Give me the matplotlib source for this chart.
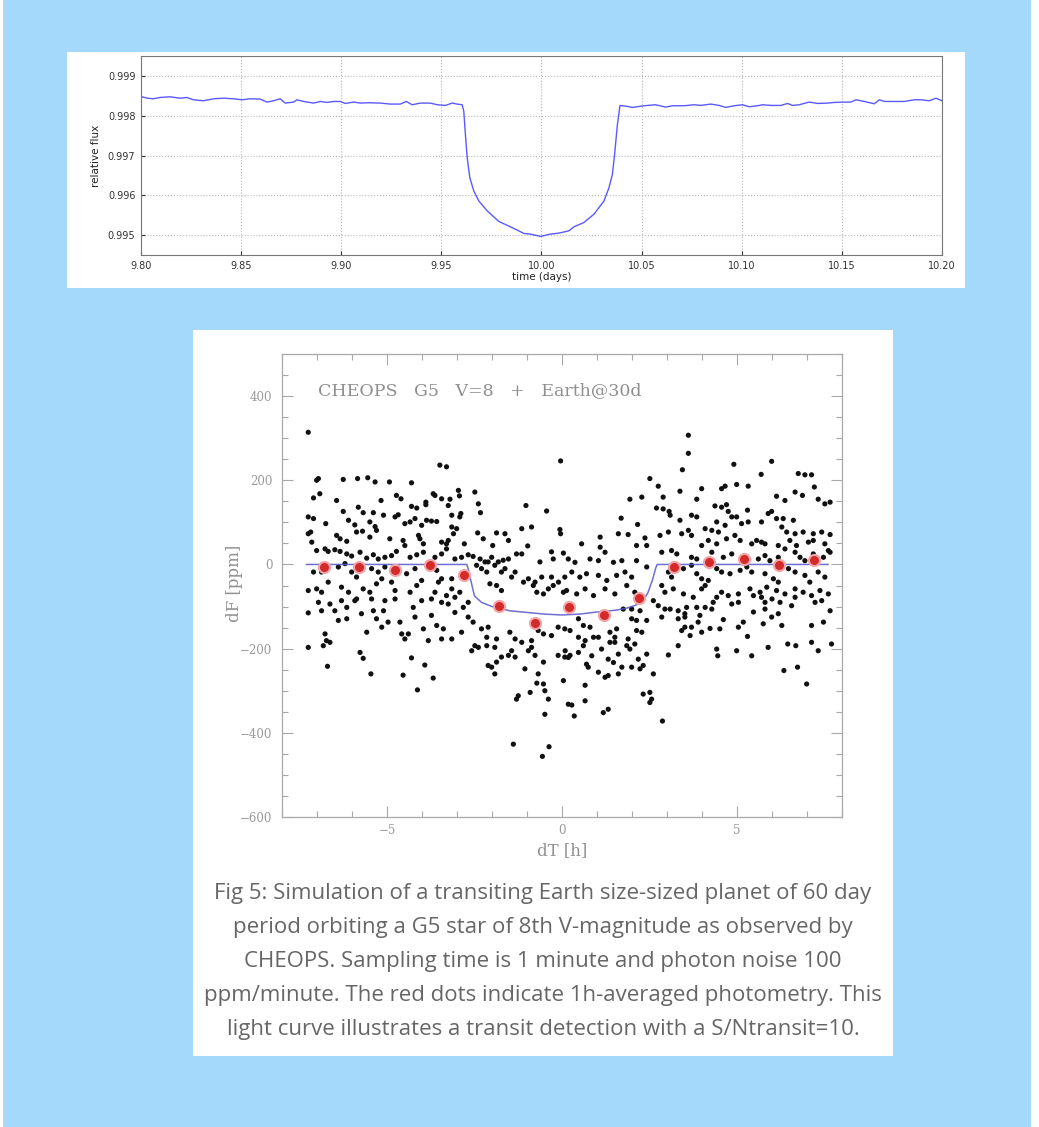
import matplotlib
matplotlib.use("Agg")
import matplotlib.pyplot as plt
from matplotlib.patches import Rectangle
from matplotlib.ticker import MultipleLocator, FormatStrFormatter

W, H = 1039, 1127

# ---------------- top panel: light curve ----------------
lc_time = [9.8000, 9.8029, 9.8062, 9.8095, 9.8145, 9.8195, 9.8229, 9.8262, 9.8312, 9.8362,
           9.8412, 9.8462, 9.8504, 9.8545, 9.8595, 9.8629, 9.8662, 9.8695, 9.8720, 9.8762,
           9.8779, 9.8812, 9.8862, 9.8895, 9.8929, 9.8962, 9.8995, 9.9020, 9.9062, 9.9095,
           9.9137, 9.9195, 9.9245, 9.9295, 9.9325, 9.9354, 9.9395, 9.9445, 9.9479, 9.9520,
           9.9554, 9.9579, 9.9604, 9.9612, 9.9620, 9.9629, 9.9642, 9.9662, 9.9687, 9.9729,
           9.9787, 9.9845, 9.9912, 9.9945, 9.9995, 10.0045, 10.0087, 10.0137, 10.0162, 10.0212,
           10.0262, 10.0312, 10.0337, 10.0354, 10.0365, 10.0379, 10.0392, 10.0429, 10.0454, 10.0512,
           10.0570, 10.0620, 10.0654, 10.0712, 10.0762, 10.0795, 10.0845, 10.0887, 10.0920, 10.0962,
           10.1004, 10.1037, 10.1079, 10.1104, 10.1145, 10.1195, 10.1229, 10.1254, 10.1287, 10.1337,
           10.1379, 10.1429, 10.1462, 10.1512, 10.1545, 10.1570, 10.1612, 10.1662, 10.1687, 10.1712,
           10.1762, 10.1812, 10.1862, 10.1895, 10.1937, 10.1970, 10.2000]
lc_flux = [0.998483, 0.998442, 0.998425, 0.998458, 0.998475, 0.998440, 0.998458, 0.998400, 0.998375, 0.998425,
           0.998440, 0.998425, 0.998400, 0.998425, 0.998418, 0.998342, 0.998375, 0.998425, 0.998317, 0.998342,
           0.998400, 0.998358, 0.998317, 0.998358, 0.998333, 0.998358, 0.998358, 0.998308, 0.998342, 0.998317,
           0.998325, 0.998317, 0.998292, 0.998292, 0.998358, 0.998275, 0.998317, 0.998317, 0.998275, 0.998258,
           0.998317, 0.998292, 0.998275, 0.998108, 0.997525, 0.996942, 0.996442, 0.996108, 0.995858, 0.995608,
           0.995342, 0.995208, 0.995042, 0.995025, 0.994967, 0.995025, 0.995050, 0.995108, 0.995208, 0.995317,
           0.995525, 0.995858, 0.996192, 0.996525, 0.997025, 0.997775, 0.998258, 0.998233, 0.998208, 0.998250,
           0.998275, 0.998217, 0.998250, 0.998250, 0.998275, 0.998258, 0.998292, 0.998258, 0.998208, 0.998250,
           0.998275, 0.998225, 0.998250, 0.998275, 0.998258, 0.998258, 0.998308, 0.998258, 0.998275, 0.998342,
           0.998308, 0.998317, 0.998333, 0.998342, 0.998342, 0.998400, 0.998358, 0.998300, 0.998400, 0.998358,
           0.998358, 0.998358, 0.998400, 0.998400, 0.998375, 0.998440, 0.998375]
top_xticks = [9.80, 9.85, 9.90, 9.95, 10.00, 10.05, 10.10, 10.15, 10.20]
top_yticks = [0.995, 0.996, 0.997, 0.998, 0.999]

# ---------------- bottom panel: CHEOPS simulation ----------------
pts_upper_left = [
    (-7.25, 314), (-3.49, 236), (-3.30, 232), (-0.04, 246),
    (-7.01, 200), (-6.96, 204), (-6.25, 202), (-5.84, 204), (-5.55, 206), (-5.34, 196), (-4.93, 196),
    (-4.30, 194), (-2.96, 176), (-2.49, 172),
    (-7.10, 158), (-6.92, 168), (-6.44, 152), (-5.17, 152), (-4.73, 164), (-4.60, 156), (-4.30, 138),
    (-4.15, 134), (-3.89, 148), (-3.89, 142), (-3.68, 168), (-3.63, 164), (-3.44, 156), (-3.20, 155),
    (-3.25, 140), (-2.93, 163), (-2.39, 144), (-2.33, 123), (-1.03, 140), (-0.44, 127),
    (-7.25, 113), (-7.10, 109), (-6.25, 126), (-5.82, 136), (-5.68, 123), (-5.39, 123), (-5.10, 117),
    (-4.77, 113), (-4.68, 118), (-4.49, 97), (-4.34, 101), (-4.20, 109), (-4.01, 93), (-3.87, 105),
    (-3.73, 103), (-3.58, 102), (-3.15, 117), (-2.92, 113), (-2.89, 121),
    (-6.75, 97), (-6.10, 105), (-5.92, 94), (-5.49, 101), (-5.34, 90), (-5.87, 77), (-5.70, 79),
    (-7.25, 73), (-7.18, 77), (-6.44, 69), (-6.34, 61), (-6.15, 55), (-5.49, 65), (-5.30, 81),
    (-4.92, 61), (-4.54, 57), (-4.10, 69), (-4.06, 61), (-3.96, 49), (-3.44, 53), (-3.30, 49),
    (-3.25, 57), (-3.15, 89), (-3.01, 85), (-3.10, 73), (-2.79, 49), (-2.41, 75), (-2.25, 61),
    (-1.87, 75), (-1.63, 73), (-1.53, 57), (-1.15, 85), (-0.87, 89), (-1.98, 45), (-0.98, 44),
    (-0.06, 83), (-0.04, 73),
    (-7.15, 53), (-7.01, 33), (-6.77, 37), (-6.68, 31), (-6.49, 35), (-6.34, 31), (-6.15, 25),
    (-6.01, 20), (-5.77, 29), (-5.58, 15), (-5.39, 23), (-5.25, 13), (-5.06, 17), (-4.87, 21),
    (-4.73, 31), (-4.49, 45), (-4.34, 17), (-4.15, 23), (-3.96, 29), (-3.63, 17), (-3.44, 25),
    (-3.30, 37), (-3.06, 13), (-2.87, 17), (-2.68, 23), (-2.54, 19), (-2.34, 13), (-2.20, 6),
    (-2.01, 17), (-1.82, 6), (-1.68, 10), (-1.53, 13), (-1.30, 25), (-1.15, 25), (-0.63, 6),
    (-0.25, 13), (0.04, 27), (-0.30, 30),
    (-7.10, -18), (-6.87, -18), (-6.39, -6), (-6.20, 2), (-6.01, -18), (-5.87, -30), (-5.44, -10),
    (-5.25, -18), (-5.06, -6), (-4.68, -14), (-4.44, -22), (-4.20, -10), (-3.58, -14), (-3.44, -34),
    (-3.15, -34), (-2.44, -2), (-2.30, -10), (-2.15, -18), (-2.11, 6), (-1.92, -2), (-1.73, -18),
    (-1.63, -10), (-1.44, -30), (-1.34, -18), (-0.96, -34), (-0.77, -42), (-0.58, -30), (-0.30, -30),
    (-0.10, -42), (0.08, -30),
    (-7.25, -62), (-7.01, -58), (-6.87, -66), (-6.68, -42), (-6.30, -54), (-6.10, -66), (-5.68, -58),
    (-5.49, -66), (-5.30, -46), (-5.15, -34), (-4.87, -42), (-4.77, -62), (-4.34, -66), (-4.15, -50),
    (-4.01, -38), (-3.63, -66), (-3.53, -42), (-3.30, -74), (-3.15, -58), (-2.92, -66), (-2.06, -46),
    (-1.87, -50), (-1.73, -62), (-1.10, -42), (-0.82, -50), (-0.72, -66), (-0.53, -70), (-0.39, -58),
    (-0.25, -50), (0.04, -66),
]
pts_upper_right = [
    (3.61, 307), (3.61, 264), (3.44, 225), (4.91, 238), (5.99, 245), (2.51, 204), (2.75, 186),
    (3.37, 174), (3.99, 180), (4.56, 180), (4.66, 186), (4.99, 190), (5.32, 186), (5.69, 214),
    (6.75, 216), (6.94, 213), (7.13, 213), (7.21, 184),
    (1.94, 155), (2.28, 160), (2.89, 160), (6.13, 162), (6.37, 152), (6.66, 172), (6.87, 164),
    (7.32, 155), (7.51, 144), (7.66, 148),
    (1.69, 110), (2.16, 95), (2.70, 134), (2.89, 132), (3.06, 126), (3.09, 117), (3.37, 105),
    (3.70, 117), (3.85, 113), (3.85, 155), (4.37, 139), (4.56, 136), (4.70, 142), (4.75, 126),
    (4.85, 113), (4.99, 113), (4.42, 101), (4.66, 93), (5.13, 97), (5.32, 101), (5.30, 129),
    (5.70, 101), (5.89, 121), (5.99, 126), (6.13, 109), (6.32, 109), (6.61, 105), (6.28, 89),
    (6.42, 77), (6.66, 73), (6.89, 77), (7.18, 73), (7.42, 77), (7.66, 71),
    (1.09, 65), (1.61, 73), (1.89, 71), (2.37, 63), (0.56, 49), (1.09, 41), (1.23, 29), (2.13, 45),
    (2.42, 45), (2.80, 69), (3.04, 77), (3.42, 73), (3.61, 81), (3.70, 69), (4.09, 85), (4.28, 81),
    (4.47, 77), (3.99, 45), (4.18, 57), (4.42, 49), (4.70, 61), (4.94, 69), (5.09, 57), (5.42, 49),
    (5.56, 57), (5.70, 53), (5.80, 49), (6.18, 45), (6.37, 37), (6.51, 57), (6.70, 45), (7.04, 53),
    (7.18, 57), (7.51, 49), (7.61, 33),
    (0.18, 13), (0.37, 5), (0.80, 13), (1.04, 9), (1.47, 5), (1.71, 9), (2.13, 9), (2.85, 29),
    (3.13, 33), (3.28, 25), (3.70, 17), (3.85, 13), (4.28, 29), (4.61, 17), (4.85, 25), (5.13, 13),
    (5.61, 13), (5.80, 21), (5.94, 9), (6.18, 17), (6.66, 29), (6.80, 17), (6.94, 9), (7.18, 25),
    (7.47, 17), (7.66, 29),
    (0.28, -18), (0.51, -30), (0.70, -22), (1.04, -26), (1.28, -38), (1.56, -26), (1.80, -18),
    (1.99, -30), (2.42, -6), (3.04, -18), (3.13, -30), (3.47, -10), (3.70, -2), (3.85, -22),
    (3.99, -34), (4.18, -38), (4.42, -10), (4.56, -18), (4.80, -22), (5.09, -14), (5.28, -6),
    (5.42, -18), (5.80, -22), (6.04, -34), (6.18, -42), (6.47, -10), (6.66, -18), (6.94, -26),
    (7.08, -42), (7.32, -18), (7.51, -30),
    (0.13, -62), (0.42, -70), (0.66, -58), (0.90, -74), (1.23, -58), (1.51, -70), (1.85, -50),
    (2.08, -66), (2.85, -50), (2.94, -66), (3.18, -58), (3.47, -70), (3.75, -78), (3.99, -58),
    (4.09, -50), (4.56, -66), (4.75, -74), (5.04, -70), (5.37, -58), (5.66, -66), (5.85, -54),
    (6.13, -62), (6.37, -70), (6.66, -58), (6.89, -66), (7.13, -74), (7.37, -62), (7.61, -70),
]
pts_lower_left = [
    (-7.25, -115), (-6.96, -90), (-6.87, -110), (-6.63, -94), (-6.49, -110), (-6.39, -133),
    (-6.15, -102), (-6.15, -129), (-5.92, -86), (-5.73, -117), (-5.58, -161), (-5.39, -110),
    (-5.30, -129), (-5.15, -149), (-5.10, -110), (-4.97, -137), (-4.63, -137), (-4.77, -82),
    (-4.58, -165), (-4.49, -177), (-4.39, -165), (-4.25, -102), (-4.20, -125), (-3.96, -153),
    (-3.82, -181), (-3.73, -121), (-3.58, -145), (-3.39, -153), (-3.44, -177), (-3.15, -177),
    (-3.25, -94), (-3.06, -114), (-2.87, -161), (-2.82, -102), (-2.68, -125), (-2.54, -137),
    (-2.58, -205), (-2.49, -193), (-2.39, -197), (-2.30, -153), (-2.15, -173), (-2.11, -149),
    (-2.15, -193), (-1.92, -197), (-1.87, -177), (-2.11, -240), (-2.01, -244), (-1.92, -260),
    (-1.87, -232), (-1.73, -220), (-1.53, -216), (-1.44, -205), (-1.34, -220), (-1.49, -161),
    (-1.34, -177), (-1.15, -185), (-1.06, -248), (-0.96, -205), (-0.87, -181), (-0.87, -197),
    (-0.77, -216), (-0.68, -157), (-0.53, -165), (-0.30, -169), (-0.11, -149), (0.08, -153),
    (-0.53, -232), (-0.72, -282), (-0.53, -284), (-0.49, -300), (-0.91, -304), (-1.30, -320),
    (-1.25, -312), (-0.68, -260), (-0.39, -320), (-0.49, -356), (0.04, -276), (0.08, -220),
    (0.23, -216), (-0.11, -216), (0.18, -332), (-1.39, -427), (-0.37, -433), (-0.56, -456),
    (-7.25, -197), (-6.82, -193), (-6.73, -181), (-6.63, -185), (-6.77, -165), (-6.70, -242),
    (-5.77, -209), (-5.68, -223), (-5.46, -260), (-4.54, -263), (-4.30, -222), (-3.92, -239),
    (-3.68, -270), (-4.13, -298),
    (-6.30, -86), (-5.87, -82), (-5.44, -82), (-5.06, -86), (-4.01, -86), (-3.73, -82),
    (-3.44, -90), (-3.06, -78), (-2.68, -90),
]
pts_lower_right = [
    (0.23, -157), (0.47, -129), (0.61, -145), (0.80, -149), (0.47, -173), (0.66, -181),
    (0.61, -193), (0.90, -173), (1.04, -173), (0.09, -205), (0.18, -221), (0.47, -209),
    (0.85, -217), (1.13, -201), (0.70, -237), (0.75, -244), (1.37, -161), (1.51, -173),
    (1.56, -153), (1.37, -185), (1.51, -185), (1.61, -213), (1.32, -225), (1.47, -233),
    (1.04, -256), (1.23, -268), (1.32, -264), (1.61, -260), (1.85, -193), (1.94, -201),
    (1.89, -177), (2.08, -189), (1.71, -244), (1.99, -244), (2.23, -248), (2.32, -240),
    (2.18, -225), (2.42, -213), (2.61, -260), (2.13, -157), (2.28, -161), (1.99, -129),
    (2.13, -133), (2.42, -133), (1.75, -106), (1.99, -106), (2.23, -110), (2.32, -308),
    (2.51, -304), (2.56, -320), (2.51, -328), (0.66, -287), (0.66, -324), (0.28, -334),
    (0.35, -360), (1.18, -352), (1.32, -344), (2.87, -372), (3.04, -215), (3.32, -193),
    (2.61, -86), (2.75, -98), (2.94, -106), (3.09, -106), (2.85, -125), (3.32, -129),
    (3.51, -117), (3.51, -125), (3.42, -157), (3.51, -149), (3.66, -169), (3.70, -149),
    (3.32, -110), (3.56, -102), (3.85, -102), (3.94, -121), (3.89, -137), (3.99, -161),
    (4.23, -152), (4.09, -102), (4.28, -106), (4.32, -90), (4.42, -78), (4.51, -153),
    (4.61, -131), (4.42, -201), (4.45, -217), (4.99, -205), (5.04, -149), (5.18, -137),
    (5.30, -171), (5.42, -217), (4.85, -94), (5.04, -90), (5.47, -113), (5.75, -141),
    (5.80, -106), (5.80, -90), (5.89, -197), (5.99, -125), (6.18, -117), (6.28, -145),
    (6.23, -90), (6.56, -98), (6.66, -78), (6.34, -252), (6.45, -189), (6.68, -193),
    (6.73, -244), (6.99, -284), (7.13, -145), (7.13, -185), (7.32, -205), (7.42, -86),
    (7.23, -90), (7.47, -137), (7.66, -110), (7.70, -189), (5.47, -74), (5.70, -78), (6.00, -82),
]

bin_dt = [-6.8, -5.8, -4.77, -3.77, -2.8, -1.8, -0.77, 0.2, 1.2, 2.2, 3.2, 4.2, 5.2, 6.2, 7.2]
bin_df = [-5, -7, -12, -2, -24, -98, -138, -100, -121, -79, -7, 5, 14, -2, 10]

model_dt = [-7.3, -2.72, -2.68, -2.6, -2.5, -2.3, -2.0, -1.5, -1.0, -0.5, 0.0, 0.5, 1.0, 1.5,
            1.8, 2.1, 2.3, 2.45, 2.58, 2.68, 2.72, 7.6]
model_df = [0, 0, -10, -40, -75, -90, -100, -110, -114, -118, -120, -118, -113, -109,
            -105, -97, -88, -68, -38, -8, 0, 0]

bottom_yticks = [400, 200, 0, -200, -400, -600]
bottom_xticks = [-5, 0, 5]
panel_title = "CHEOPS   G5   V=8   +   Earth@30d"

caption_lines = [
    "Fig 5: Simulation of a transiting Earth size-sized planet of 60 day",
    "period orbiting a G5 star of 8th V-magnitude as observed by",
    "CHEOPS. Sampling time is 1 minute and photon noise 100",
    "ppm/minute. The red dots indicate 1h-averaged photometry. This",
    "light curve illustrates a transit detection with a S/Ntransit=10.",
]


def fx(px):
    return px / W


def fy(py):
    return 1 - py / H


def box(l, t, r, b):
    return [fx(l), fy(b), fx(r) - fx(l), fy(t) - fy(b)]


fig = plt.figure(figsize=(W / 100, H / 100), dpi=100)
fig.patch.set_facecolor("white")
fig.add_artist(Rectangle((fx(3), 0), fx(1031) - fx(3), 1, transform=fig.transFigure,
                         facecolor="#a4d9fb", edgecolor="none", zorder=0))
fig.add_artist(Rectangle((fx(67), fy(288)), fx(965) - fx(67), fy(52) - fy(288),
                         transform=fig.transFigure, facecolor="white", edgecolor="none", zorder=0))
fig.add_artist(Rectangle((fx(193), fy(1056)), fx(893) - fx(193), fy(330) - fy(1056),
                         transform=fig.transFigure, facecolor="white", edgecolor="none", zorder=0))

# ---- top axes
ax1 = fig.add_axes(box(141, 56, 942, 255))
ax1.plot(lc_time, lc_flux, color="#5a5aff", lw=1.0)
ax1.set_xlim(9.80, 10.20)
ax1.set_ylim(0.9945, 0.9995)
ax1.set_xticks(top_xticks)
ax1.set_yticks(top_yticks)
ax1.xaxis.set_major_formatter(FormatStrFormatter("%.2f"))
ax1.yaxis.set_major_formatter(FormatStrFormatter("%.3f"))
ax1.grid(True, ls=":", color="#b5b5b5", lw=0.8)
ax1.tick_params(direction="in", length=3, labelsize=7, colors="#333333", pad=4)
for s in ax1.spines.values():
    s.set_color("#777777")
ax1.set_ylabel("relative flux", fontsize=7.5, color="#222222", labelpad=5)
ax1.set_xlabel("time (days)", fontsize=7.5, color="#222222", labelpad=1)

# ---- bottom axes
ax2 = fig.add_axes(box(282, 354, 842, 817))
gray_txt = "#9a9a9a"
dt_all = [p[0] for grp in (pts_upper_left, pts_upper_right, pts_lower_left, pts_lower_right) for p in grp]
df_all = [p[1] for grp in (pts_upper_left, pts_upper_right, pts_lower_left, pts_lower_right) for p in grp]
ax2.scatter(dt_all, df_all, s=14, color="#111111", edgecolors="none", zorder=2)
ax2.plot(model_dt, model_df, color="#5555cc", lw=1.1, alpha=0.85, zorder=3)
ax2.plot(bin_dt, bin_df, "o", ms=8, color="#d42a2a", mec="#f2a5a8", mew=1.5, zorder=4)
ax2.set_xlim(-8, 8)
ax2.set_ylim(-600, 500)
ax2.set_xticks(bottom_xticks)
ax2.set_yticks(bottom_yticks)
ax2.set_xticklabels(["\u22125", "0", "5"])
ax2.set_yticklabels(["400", "200", "0", "\u2212200", "\u2212400", "\u2212600"])
ax2.xaxis.set_minor_locator(MultipleLocator(1))
ax2.yaxis.set_minor_locator(MultipleLocator(50))
ax2.tick_params(which="both", direction="in", top=True, right=True, colors="#a8a8a8",
                labelcolor=gray_txt, width=0.8)
ax2.tick_params(which="major", length=8)
ax2.tick_params(which="minor", length=4)
ax2.tick_params(axis="y", labelsize=8.5, pad=7)
ax2.tick_params(axis="x", labelsize=8.5, pad=5)
for lab in ax2.get_xticklabels() + ax2.get_yticklabels():
    lab.set_family("DejaVu Serif")
for s in ax2.spines.values():
    s.set_color("#a8a8a8")
    s.set_linewidth(0.9)
ax2.set_xlabel("dT [h]", family="DejaVu Serif", fontsize=12, color="#8f8f8f", labelpad=4)
ax2.set_ylabel("dF [ppm]", family="DejaVu Serif", fontsize=12, color="#8f8f8f")
ax2.yaxis.set_label_coords(-0.07, 0.505)
ax2.text(0.065, 0.92, panel_title, transform=ax2.transAxes, family="DejaVu Serif",
         fontsize=12.5, color="#8f8f8f", ha="left", va="center")

# ---- caption
line_y = [893, 927, 962, 996, 1030]
for txt, py in zip(caption_lines, line_y):
    fig.text(fx(543), fy(py), txt, family="Open Sans", fontsize=16, color="#666666",
             ha="center", va="center")

fig.savefig("out.png", dpi=100, facecolor=fig.get_facecolor())
